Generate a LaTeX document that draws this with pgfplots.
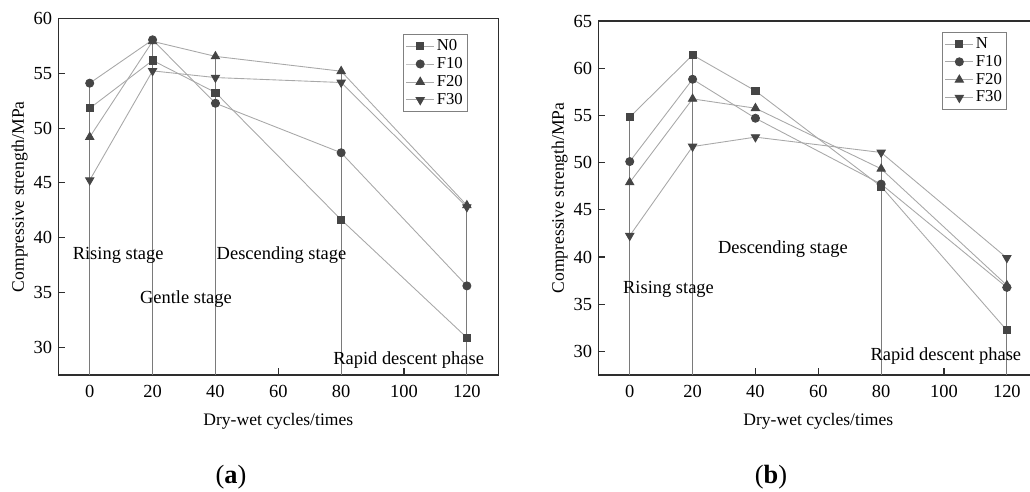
\documentclass[border=0pt]{standalone}
\usepackage{fontspec}
\setmainfont{Liberation Serif}
\usepackage{pgfplots}
\pgfplotsset{compat=1.18}
\definecolor{framecol}{HTML}{2E2E2E}
\definecolor{vcol}{HTML}{7A7A7A}
\definecolor{sercol}{HTML}{A8A8A8}
\definecolor{mk}{HTML}{454545}
\newcommand{\lbl}{\fontsize{10.5}{12}\selectfont}

\pgfplotsset{
  panel/.style={
    scale only axis, width=8.8cm, xmin=-10, xmax=130, ymin=27.5,
    xtick={0,20,...,120}, tick align=inside, xtick pos=bottom, ytick pos=left,
    major tick length=0.14cm, tick style={framecol,line width=0.6pt},
    axis line style={framecol,line width=0.9pt},
    tick label style={font=\lbl},
    xticklabel style={yshift=-0.08cm},
    /pgf/number format/assume math mode=true,
    label style={font=\lbl},
    xlabel={Dry-wet cycles/times}, ylabel={Compressive strength/MPa},
    every axis x label/.style={at={(axis description cs:0.5,-0.131)},anchor=center},
    every axis y label/.style={at={(axis description cs:-0.088,0.5)},anchor=center,rotate=90},
    legend style={draw=gray,line width=0.5pt,font=\fontsize{9.5}{10}\selectfont,
      anchor=north east,inner sep=1.5pt,row sep=0pt,nodes={inner sep=1.2pt}},
    legend cell align=left,
    legend image code/.code={%
      \draw[mark repeat=2,mark phase=2] plot coordinates {(0cm,0cm) (0.28cm,0cm) (0.56cm,0cm)};},
    clip=false,
  },
  ser/.style={color=sercol,line width=0.5pt,mark options={fill=mk,draw=mk,solid}},
  vl/.style={color=vcol,line width=0.6pt,forget plot},
}

\begin{document}
\begin{tikzpicture}
% (a)
\begin{axis}[panel,height=7.134cm,ymax=60,ytick={30,35,...,60},
  legend style={at={(0.931,0.956)}}]
\addplot[vl] coordinates {(0,27.5) (0,54.09)};
\addplot[vl] coordinates {(20,27.5) (20,58.04)};
\addplot[vl] coordinates {(40,27.5) (40,56.53)};
\addplot[vl] coordinates {(80,27.5) (80,55.18)};
\addplot[vl] coordinates {(120,27.5) (120,42.96)};
\addplot[ser,mark=square*,mark size=2pt] coordinates {(0,51.80) (20,56.16) (40,53.24) (80,41.65) (120,30.90)};
\addplot[ser,mark=*,mark size=2.3pt] coordinates {(0,54.09) (20,58.04) (40,52.26) (80,47.75) (120,35.62)};
\addplot[ser,mark=triangle*,mark size=2.7pt] coordinates {(0,49.18) (20,57.90) (40,56.53) (80,55.18) (120,42.96)};
\addplot[ser,mark=triangle*,mark size=2.7pt,mark options={fill=mk,draw=mk,solid,rotate=180}] coordinates {(0,45.25) (20,55.21) (40,54.60) (80,54.15) (120,42.80)};
\legend{N0,F10,F20,F30}
\node[anchor=west,font=\lbl,inner sep=0pt] at (axis cs:-5.5,38.4) {Rising stage};
\node[anchor=west,font=\lbl,inner sep=0pt] at (axis cs:15.9,34.43) {Gentle stage};
\node[anchor=west,font=\lbl,inner sep=0pt] at (axis cs:40.3,38.4) {Descending stage};
\node[anchor=west,font=\lbl,inner sep=0pt] at (axis cs:77.4,28.86) {Rapid descent phase};
\end{axis}
% (b)
\begin{axis}[panel,at={(10.8cm,0)},height=7.08cm,ymax=65,ytick={30,35,...,65},
  legend style={at={(0.929,0.969)}}]
\addplot[vl] coordinates {(0,27.5) (0,54.81)};
\addplot[vl] coordinates {(20,27.5) (20,61.40)};
\addplot[vl] coordinates {(80,27.5) (80,51.07)};
\addplot[vl] coordinates {(120,27.5) (120,39.90)};
\addplot[ser,mark=square*,mark size=2pt] coordinates {(0,54.81) (20,61.40) (40,57.60) (80,47.47) (120,32.23)};
\addplot[ser,mark=*,mark size=2.3pt] coordinates {(0,50.11) (20,58.83) (40,54.70) (80,47.72) (120,36.78)};
\addplot[ser,mark=triangle*,mark size=2.7pt] coordinates {(0,47.90) (20,56.75) (40,55.76) (80,49.34) (120,37.00)};
\addplot[ser,mark=triangle*,mark size=2.7pt,mark options={fill=mk,draw=mk,solid,rotate=180}] coordinates {(0,42.25) (20,51.70) (40,52.70) (80,51.07) (120,39.90)};
\legend{N,F10,F20,F30}
\node[anchor=west,font=\lbl,inner sep=0pt] at (axis cs:-2.2,36.6) {Rising stage};
\node[anchor=west,font=\lbl,inner sep=0pt] at (axis cs:28.0,40.84) {Descending stage};
\node[anchor=west,font=\lbl,inner sep=0pt] at (axis cs:76.5,29.55) {Rapid descent phase};
\end{axis}
\node[font=\fontsize{15}{17}\selectfont] at (3.454cm,-2.04cm) {(\textbf{a})};
\node[font=\fontsize{15}{17}\selectfont] at (14.254cm,-2.04cm) {(\textbf{b})};
\pgfresetboundingbox
\path (-1.166cm,-2.34cm) rectangle (19.434cm,7.5cm);
\end{tikzpicture}
\end{document}
